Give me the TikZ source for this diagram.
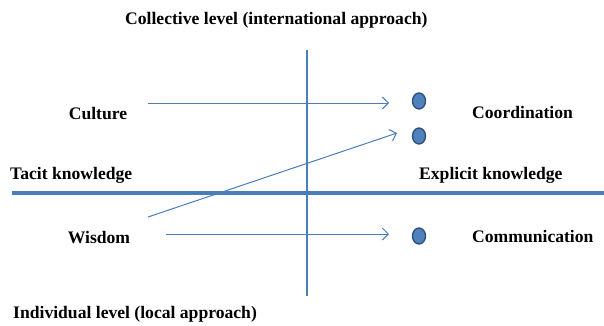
\documentclass[tikz,border=0pt]{standalone}
\usepackage{fontspec}
\setmainfont{Liberation Serif}
\usetikzlibrary{arrows.meta}
\usetikzlibrary{shapes.geometric}

\definecolor{axisblue}{RGB}{74,126,187}
\definecolor{dotfill}{RGB}{79,129,189}
\definecolor{dotedge}{RGB}{47,82,124}

\begin{document}
\begin{tikzpicture}[x=1pt,y=-1pt,
    lbl/.style={font=\fontsize{17.6}{20}\selectfont\bfseries,inner sep=0pt},
    dot/.style={ellipse,draw=dotedge,fill=dotfill,line width=1.4pt,minimum width=13pt,minimum height=16pt,inner sep=0pt},
    arr/.style={axisblue,line width=1pt,-{Straight Barb[length=6pt,width=12pt]}}]
            \useasboundingbox (0,0) rectangle (604,325);

            % axis
            \draw[axisblue,line width=3.5pt] (12,193) -- (604,193);
            \draw[axisblue,line width=2pt] (307,50) -- (307,296);

            % labels
            \node[lbl,anchor=base west] (collective) at (125,24) {Collective level (international approach)};
            \node[lbl,anchor=base west] (individual) at (13,318) {Individual level (local approach)};
            \node[lbl,anchor=base west] (tacit) at (10,179) {Tacit knowledge};
            \node[lbl,anchor=base west] (explicit) at (419,179) {Explicit knowledge};
            \node[lbl,anchor=base] (culture) at (98,119) {Culture};
            \node[lbl,anchor=base] (wisdom) at (99,243) {Wisdom};
            \node[lbl,anchor=base west] (coordination) at (472,118) {Coordination};
            \node[lbl,anchor=base west] (communication) at (472,242) {Communication};

            % dots
            \node[dot] (dotA) at (419,101) {};
            \node[dot] (dotB) at (419,136) {};
            \node[dot] (dotC) at (419,236) {};

            % arrows
            \coordinate (cultureout) at (148,103);
            \coordinate (culturein) at (389,103);
            \coordinate (wisdomout) at (148,217);
            \coordinate (wisdomin) at (397,133);
            \coordinate (wisdomright) at (166,234);
            \coordinate (commin) at (389,234);
            \draw[arr] (cultureout) -- (culturein);
            \draw[arr] (wisdomout) -- (wisdomin);
            \draw[arr] (wisdomright) -- (commin);
\end{tikzpicture}
\end{document}
